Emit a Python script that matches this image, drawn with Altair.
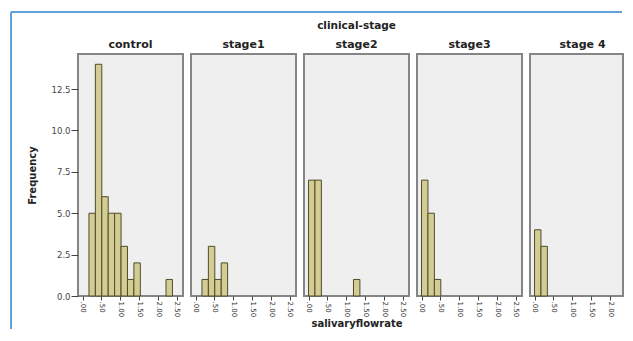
import altair as alt
import pandas as pd

# ---- data (bin lower edges and counts) ----
stages = ["control", "stage1", "stage2", "stage3", "stage 4"]
bin_width = 0.17
control_bins = [0.17, 0.34, 0.51, 0.68, 0.85, 1.02, 1.19, 1.36, 2.21]
control_counts = [5, 14, 6, 5, 5, 3, 1, 2, 1]
stage1_bins = [0.17, 0.34, 0.51, 0.68]
stage1_counts = [1, 3, 1, 2]
stage2_bins = [0.0, 0.17, 1.19]
stage2_counts = [7, 7, 1]
stage3_bins = [0.0, 0.17, 0.34]
stage3_counts = [7, 5, 1]
stage4_bins = [0.0, 0.17]
stage4_counts = [4, 3]
x_ticks = [0.0, 0.5, 1.0, 1.5, 2.0, 2.5]
y_ticks = [0.0, 2.5, 5.0, 7.5, 10.0, 12.5]
facet_title = "clinical-stage"
x_title = "salivaryflowrate"
y_title = "Frequency"

all_bins = [control_bins, stage1_bins, stage2_bins, stage3_bins, stage4_bins]
all_counts = [control_counts, stage1_counts, stage2_counts, stage3_counts, stage4_counts]

BAR_FILL = "#d4cd93"
BAR_STROKE = "#4f4b2c"
BLUE = "#62a0dc"
FONT = "DejaVu Sans"
PX_PER_UNIT = 37.77
X_MIN = -0.12
PANEL_H = 242
Y_MAX = 14.62

x_label_expr = ("datum.value < 1 ? substring(format(datum.value, '.2f'), 1)"
                " : format(datum.value, '.2f')")


def panel(i, width):
    name = stages[i]
    df = pd.DataFrame({"start": all_bins[i], "count": all_counts[i]})
    x_max = X_MIN + width / PX_PER_UNIT
    ticks = [t for t in x_ticks if t <= x_max]
    xaxis_kw = dict(values=ticks, labelExpr=x_label_expr, labelAngle=90,
                    labelFont=FONT, labelFontSize=7, labelColor="#333333",
                    tickColor="#444444", tickSize=4, labelPadding=1,
                    domain=False, grid=False)
    if i == 2:
        xaxis_kw.update(title=x_title, titleFont=FONT, titleFontSize=10,
                        titleFontWeight="bold", titleColor="#222222",
                        titlePadding=2)
    else:
        xaxis_kw.update(title="")
    x_enc = alt.X("start:Q",
                  scale=alt.Scale(domain=[X_MIN, x_max], nice=False, zero=False),
                  axis=alt.Axis(**xaxis_kw))
    if i == 0:
        y_enc = alt.Y("count:Q",
                      scale=alt.Scale(domain=[0, Y_MAX], nice=False),
                      axis=alt.Axis(values=y_ticks, format=".1f", labelFont=FONT,
                                    labelFontSize=8.5, labelColor="#444444",
                                    tickColor="#444444", tickSize=7,
                                    labelPadding=1, domain=False, grid=False,
                                    title=y_title, titleFont=FONT,
                                    titleFontSize=10, titleFontWeight="bold",
                                    titleColor="#222222", titlePadding=14))
    else:
        y_enc = alt.Y("count:Q", scale=alt.Scale(domain=[0, Y_MAX], nice=False),
                      axis=None)
    bars = alt.Chart(df).transform_calculate(
        end=f"datum.start + {bin_width}", zero="0"
    ).mark_bar(fill=BAR_FILL, stroke=BAR_STROKE, strokeWidth=1).encode(
        x=x_enc, x2="end:Q", y=y_enc, y2="zero:Q"
    )
    tdf = pd.DataFrame({"t": [name]})
    title = alt.Chart(tdf).mark_text(font=FONT, fontSize=11, fontWeight="bold",
                                     color="#222222", baseline="alphabetic").encode(
        text="t:N", x=alt.value(52.5), y=alt.value(-6)
    )
    layers = [bars, title]
    if i == 2:
        gdf = pd.DataFrame({"t": [facet_title]})
        layers.append(alt.Chart(gdf).mark_text(font=FONT, fontSize=10.5,
                                               fontWeight="bold", color="#222222",
                                               baseline="alphabetic").encode(
            text="t:N", x=alt.value(width / 2), y=alt.value(-25)))
    if i == 0:
        ldf = pd.DataFrame({"k": [0]})
        vline = alt.Chart(ldf).mark_rule(color=BLUE, strokeWidth=2).encode(
            x=alt.value(-67), y=alt.value(-42), y2=alt.value(275))
        hline = alt.Chart(ldf).mark_rule(color=BLUE, strokeWidth=2).encode(
            x=alt.value(-67), x2=alt.value(544), y=alt.value(-42))
        layers = [vline, hline] + layers
    return alt.layer(*layers).properties(width=width, height=PANEL_H)


panels = [panel(i, 105 if i < 4 else 93) for i in range(5)]

chart = alt.hconcat(*panels, spacing=8, bounds="flush").properties(
    padding={"left": 1, "top": 2, "right": 0, "bottom": 0},
    background="white",
).configure_view(
    fill="#efefef", stroke="#858585", strokeWidth=2
)

chart.save("out.html", embed_options={"renderer": "svg", "actions": False})
